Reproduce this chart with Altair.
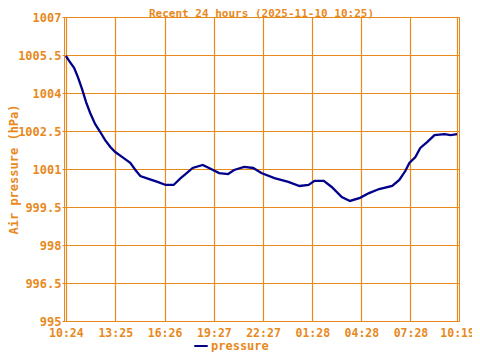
import altair as alt
import pandas as pd

# minutes after 10:24 (start of the 24h window)
minutes = [0, 15, 30, 44, 59, 74, 89, 107, 126, 144, 163, 181, 207, 236, 255, 273,
           303, 336, 366, 395, 421, 443, 465, 502, 525, 562, 595, 617, 654, 687,
           717, 765, 816, 857, 890, 912, 946, 975, 1012, 1042, 1079, 1112, 1149,
           1197, 1223, 1245, 1260, 1282, 1300, 1326, 1352, 1389, 1411, 1435]
pressure = [1005.46, 1005.22, 1004.99, 1004.63, 1004.16, 1003.64, 1003.21, 1002.78,
            1002.46, 1002.14, 1001.87, 1001.67, 1001.47, 1001.24, 1000.96, 1000.72,
            1000.61, 1000.49, 1000.37, 1000.37, 1000.64, 1000.84, 1001.04, 1001.16,
            1001.04, 1000.84, 1000.80, 1000.96, 1001.08, 1001.04, 1000.84, 1000.64,
            1000.49, 1000.33, 1000.37, 1000.53, 1000.53, 1000.29, 999.89, 999.74,
            999.86, 1000.05, 1000.21, 1000.33, 1000.57, 1000.92, 1001.24, 1001.47,
            1001.83, 1002.07, 1002.34, 1002.38, 1002.34, 1002.38]

tick_minutes = [0, 181, 362, 543, 723, 904, 1084, 1264, 1435]
tick_labels = ["10:24", "13:25", "16:26", "19:27", "22:27", "01:28", "04:28", "07:28", "10:19"]
y_ticks = [995, 996.5, 998, 999.5, 1001, 1002.5, 1004, 1005.5, 1007]

df = pd.DataFrame({"t": minutes, "p": pressure, "series": "pressure"})

ORANGE = "#E8891C"
FONT = "DejaVu Sans Mono"
NBSP = "\u00a0"

# last label gets a trailing no-break space so it sits a little left of its tick, inside the page
shown_labels = tick_labels[:-1] + [tick_labels[-1] + NBSP]
label_expr = "[" + ",".join("'%s'" % s for s in shown_labels) + "][indexof([" + \
    ",".join(str(v) for v in tick_minutes) + "], datum.value)]"

chart = alt.Chart(df).mark_line(strokeWidth=2.3).encode(
    x=alt.X("t:Q", scale=alt.Scale(domain=[-7, 1442], nice=False, zero=False),
            axis=alt.Axis(values=tick_minutes, labelExpr=label_expr, title=None,
                          tickSize=0, labelPadding=6, labelFlush=False,
                          labelFontSize=11.5)),
    y=alt.Y("p:Q", scale=alt.Scale(domain=[995, 1007], nice=False, zero=False),
            axis=alt.Axis(values=y_ticks, labelExpr="'' + datum.value",
                          title="Air pressure (hPa)", tickSize=2, labelPadding=1,
                          titleX=-51, titleY=152, titleAngle=-90,
                          titleBaseline="middle", titleAlign="center")),
    color=alt.Color("series:N", scale=alt.Scale(range=["#00008B"]),
                    legend=alt.Legend(title=None, orient="none", legendX=129, legendY=321,
                                      direction="horizontal", symbolType="stroke",
                                      symbolStrokeWidth=2, symbolSize=180,
                                      labelOffset=2, padding=0)),
).properties(
    width=395, height=304,
    autosize=alt.AutoSizeParams(type="none"),
    padding={"left": 56, "top": 9, "right": 13, "bottom": 31},
    title=alt.Title("Recent 24 hours (2025-11-10 10:25)", offset=-8,
                    baseline="alphabetic", dy=9),
).configure_view(
    stroke=ORANGE, strokeWidth=1
).configure_axis(
    gridColor=ORANGE, gridOpacity=1, gridWidth=1.2,
    domainColor=ORANGE, tickColor=ORANGE,
    labelColor=ORANGE, labelFont=FONT, labelFontSize=12, labelFontWeight="bold",
    titleColor=ORANGE, titleFont=FONT, titleFontSize=12, titleFontWeight="bold",
).configure_title(
    color=ORANGE, font=FONT, fontSize=11, fontWeight="bold", anchor="middle"
).configure_legend(
    labelColor=ORANGE, labelFont=FONT, labelFontSize=12, labelFontWeight="bold"
)

chart.save("out.html", embed_options={"renderer": "svg", "actions": False})
